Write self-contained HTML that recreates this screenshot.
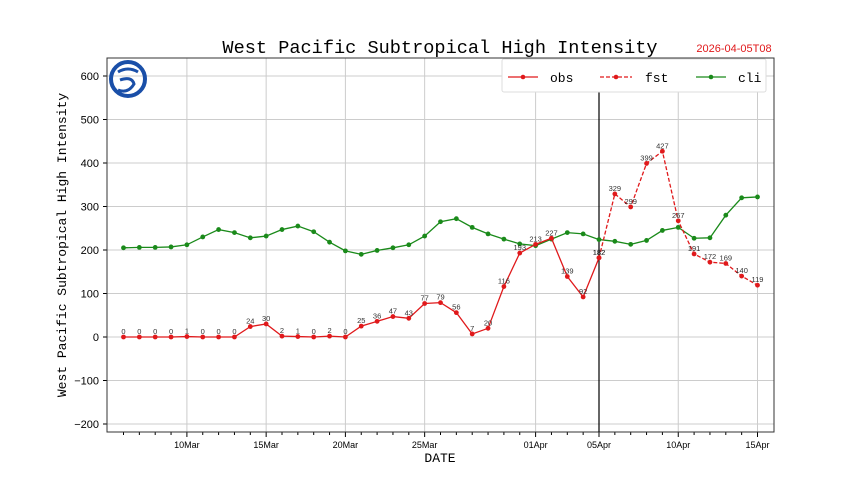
<!DOCTYPE html>
<html><head><meta charset="utf-8"><style>
body{margin:0;background:#fff;width:860px;height:483px;overflow:hidden}
svg text{font-family:"Liberation Sans","Noto Sans CJK SC",sans-serif}
</style></head><body>
<svg id="chart" width="860" height="483" xmlns="http://www.w3.org/2000/svg">
<text x="440" y="53" text-anchor="middle" font-size="18.6" style="font-family:'Liberation Mono',monospace">West Pacific Subtropical High Intensity</text>
<text x="734" y="52" text-anchor="middle" font-size="11" fill="#e0191b">2026-04-05T08</text>
<g id="grid"></g><g id="axes"></g><g id="series"></g>
<g>
<circle cx="128" cy="79" r="17" fill="none" stroke="#1a4fa8" stroke-width="4"/>
<path d="M118 72 Q128 66 138 72 M120 80 Q132 76 134 84 Q128 94 118 90" fill="none" stroke="#1a4fa8" stroke-width="3"/>
</g>
<g>
<rect x="502" y="59" width="264" height="33" fill="#fff" stroke="#ddd" rx="2"/>
<line x1="508" y1="77" x2="538" y2="77" stroke="#e0191b" stroke-width="1.3"/><circle cx="523" cy="77" r="2.3" fill="#e0191b"/>
<text x="550" y="82" font-size="13" style="font-family:'Liberation Mono',monospace">obs</text>
<line x1="600" y1="77" x2="632" y2="77" stroke="#e0191b" stroke-width="1.3" stroke-dasharray="4,2"/><circle cx="616" cy="77" r="2.3" fill="#e0191b"/>
<text x="645" y="82" font-size="13" style="font-family:'Liberation Mono',monospace">fst</text>
<line x1="696" y1="77" x2="726" y2="77" stroke="#1a8a1a" stroke-width="1.3"/><circle cx="711" cy="77" r="2.3" fill="#1a8a1a"/>
<text x="738" y="82" font-size="13" style="font-family:'Liberation Mono',monospace">cli</text>
</g>
<text x="440" y="462" text-anchor="middle" font-size="13" style="font-family:'Liberation Mono',monospace">DATE</text>
<text transform="translate(66,245) rotate(-90)" text-anchor="middle" font-size="13" style="font-family:'Liberation Mono',monospace">West Pacific Subtropical High Intensity</text>
</svg>
<script>
const dayLabels=["10Mar","15Mar","20Mar","25Mar","01Apr","05Apr","10Apr","15Apr"];
const dayLabelIdx=[4,9,14,19,26,30,35,40];
const yTicks=[-200,-100,0,100,200,300,400,500,600];
const obs=[0,0,0,0,1,0,0,0,24,30,2,1,0,2,0,25,36,47,43,77,79,56,7,20,116,193,213,227,139,92,182];
const fst=[182,329,299,399,427,267,191,172,169,140,119];
const fstStart=30;
const cli=[205,206,206,207,212,230,247,240,228,232,247,255,242,218,198,190,199,205,212,232,265,272,252,237,225,214,210,225,240,237,224,220,213,222,245,252,227,228,280,320,322];
const L=107,R=774,T=58,B=432;
const X=d=>123.5+d*15.85;
const Y=v=>337-v*0.435;
const NS="http://www.w3.org/2000/svg";
function mk(p,t,a){const e=document.createElementNS(NS,t);for(const k in a)e.setAttribute(k,a[k]);p.appendChild(e);return e;}
const grid=document.getElementById('grid'),axes=document.getElementById('axes'),ser=document.getElementById('series');
yTicks.forEach(v=>{
 const g=mk(grid,'line',{x1:L,x2:R,y1:Y(v),y2:Y(v),stroke:'#ccc','stroke-width':1});
 
 mk(axes,'line',{x1:L-4,x2:L,y1:Y(v),y2:Y(v),stroke:'#000'});
 const t=mk(axes,'text',{x:L-8,y:Y(v)+4,'text-anchor':'end','font-size':11});t.textContent=v<0?'−'+(-v):v;
 
});
dayLabelIdx.forEach((d,i)=>{
 const g=mk(grid,'line',{x1:X(d),x2:X(d),y1:T,y2:B,stroke:'#ccc'});
 
 const t=mk(axes,'text',{x:X(d),y:B+16,'text-anchor':'middle','font-size':9});t.textContent=dayLabels[i];
 
});
for(let d=0;d<cli.length;d++)mk(axes,'line',{x1:X(d),x2:X(d),y1:B,y2:B+(dayLabelIdx.includes(d)?5:3),stroke:'#000'});
const frame=mk(axes,'rect',{x:L,y:T,width:R-L,height:B-T,fill:'none',stroke:'#333'});

const vl=mk(axes,'line',{x1:X(fstStart),x2:X(fstStart),y1:T,y2:B,stroke:'#000','stroke-width':1.2});

function line(arr,off,color,dash,name,labels){
 const pts=arr.map((v,i)=>X(i+off)+','+Y(v)).join(' ');
 const p=mk(ser,'polyline',{points:pts,fill:'none',stroke:color,'stroke-width':1.3});
 if(dash)p.setAttribute('stroke-dasharray','4,2');
 
 arr.forEach((v,i)=>{
  const c=mk(ser,'circle',{cx:X(i+off),cy:Y(v),r:2.4,fill:color});
  
  if(labels){const t=mk(ser,'text',{x:X(i+off),y:Y(v)-3,'text-anchor':'middle','font-size':7.5,fill:'#333'});t.textContent=v;
  }
 });
}
line(cli,0,'#1a8a1a',false,'cli',false);
line(fst,fstStart,'#e0191b',true,'fst',true);
line(obs,0,'#e0191b',false,'obs',true);
</script>
</body></html>
